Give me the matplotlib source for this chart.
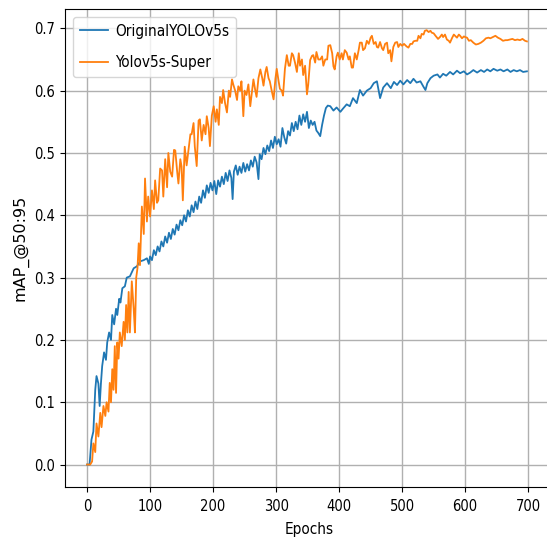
import matplotlib.pyplot as plt

# values (epoch, mAP@50:95)
# OriginalYOLOv5s, in three pieces
orig_epochs_a = [0, 4, 7, 10, 13, 15, 18, 20, 22, 24, 27, 30, 32, 35, 38, 40, 43, 46, 48, 51,
                 53, 56, 60, 63, 68, 74, 79, 84, 90, 95]
orig_map_a = [0.0, 0.0, 0.04, 0.053, 0.12, 0.142, 0.13, 0.094, 0.13, 0.158, 0.18, 0.168, 0.196,
              0.212, 0.2, 0.24, 0.225, 0.25, 0.24, 0.266, 0.26, 0.283, 0.286, 0.3, 0.302, 0.315,
              0.318, 0.326, 0.328, 0.331]

orig_epochs_b = [98, 100, 103, 106, 109, 112, 115, 118, 121, 124, 127, 130, 133, 136, 139, 142,
                 145, 148, 151, 154, 157, 160, 163, 166, 169, 172, 175, 178, 181, 184, 187, 190,
                 193, 196, 199, 202, 205, 208, 211, 214, 217, 220, 223, 226, 229, 231, 233, 236,
                 239, 242, 245, 248, 251, 254, 257, 260, 263, 266, 269, 272, 274, 277, 280, 283,
                 286, 289, 292, 295, 298, 301, 304, 307, 310, 313, 316, 319, 322, 325, 328, 331,
                 334, 337, 340, 343, 346, 349, 352, 355, 358, 361, 364, 367, 370, 373, 376, 379,
                 382]
orig_map_b = [0.322, 0.334, 0.328, 0.344, 0.336, 0.35, 0.342, 0.358, 0.35, 0.366, 0.356, 0.372,
              0.362, 0.378, 0.369, 0.385, 0.376, 0.392, 0.384, 0.4, 0.39, 0.408, 0.398, 0.416,
              0.405, 0.422, 0.41, 0.43, 0.42, 0.44, 0.428, 0.448, 0.436, 0.452, 0.44, 0.455,
              0.434, 0.456, 0.446, 0.462, 0.45, 0.468, 0.455, 0.472, 0.46, 0.426, 0.47, 0.48,
              0.465, 0.478, 0.468, 0.484, 0.47, 0.482, 0.472, 0.488, 0.478, 0.494, 0.485, 0.458,
              0.498, 0.49, 0.508, 0.498, 0.512, 0.503, 0.52, 0.508, 0.526, 0.514, 0.522, 0.51,
              0.54, 0.525, 0.515, 0.535, 0.528, 0.548, 0.535, 0.55, 0.538, 0.56, 0.545, 0.562,
              0.55, 0.566, 0.54, 0.552, 0.545, 0.55, 0.536, 0.532, 0.527, 0.545, 0.56, 0.572,
              0.576]

orig_epochs_c = [386, 391, 396, 402, 406, 412, 417, 422, 428, 433, 438, 444, 450, 455, 460, 465,
                 470, 476, 482, 487, 492, 497, 502, 508, 513, 518, 523, 529, 534, 537, 540, 545,
                 550, 556, 560, 565, 570, 576, 581, 587, 592, 598, 603, 608, 613, 619, 625, 630,
                 635, 640, 645, 651, 656, 661, 667, 672, 677, 682, 687, 692, 698]
orig_map_c = [0.575, 0.568, 0.573, 0.566, 0.571, 0.578, 0.575, 0.588, 0.58, 0.601, 0.592, 0.6,
              0.604, 0.612, 0.615, 0.588, 0.605, 0.612, 0.604, 0.614, 0.609, 0.616, 0.61, 0.617,
              0.612, 0.619, 0.613, 0.615, 0.606, 0.601, 0.612, 0.62, 0.624, 0.626, 0.621, 0.627,
              0.624, 0.63, 0.626, 0.632, 0.628, 0.631, 0.626, 0.629, 0.633, 0.629, 0.633, 0.63,
              0.634, 0.631, 0.635, 0.632, 0.634, 0.631, 0.634, 0.63, 0.633, 0.631, 0.633, 0.63,
              0.631]

# Yolov5s-Super
super_epochs = [0, 5, 8, 10, 13, 15, 18, 21, 23, 26, 29, 31, 34, 36, 38, 40, 42, 44, 46, 48,
                50, 52, 55, 58, 60, 62, 64, 66, 68, 71, 74, 76, 78, 80, 82, 84, 87, 90, 92, 95,
                97, 100, 103, 106, 108, 111, 113, 116, 119, 121, 124, 127, 129, 132, 135, 138,
                140, 143, 145, 148, 150, 152, 155, 158, 161, 164, 166, 169, 171, 174, 177, 179,
                182, 185, 188, 190, 193, 195, 198, 201, 204, 206, 209, 211, 214, 216, 219, 222,
                225, 227, 230, 232, 235, 238, 240, 243, 245, 248, 250, 253, 256, 259, 262, 264,
                267, 269, 272, 275, 278, 280, 283, 285, 288, 290, 293, 296, 299, 301, 304, 306,
                309, 311, 314, 317, 320, 322, 325, 327, 330, 333, 336, 338, 341, 343, 346, 349,
                351, 354, 357, 359, 362, 364, 367, 370, 373, 375, 378, 381, 383, 386, 389, 391,
                393, 396, 398, 401, 404, 406, 409, 412, 415, 417, 420, 422, 425, 428, 431, 433,
                436, 438, 441, 444, 447, 450, 452, 455, 458, 460, 462, 465, 468, 470, 473, 476,
                478, 481, 483, 486, 489, 492, 494, 497, 500, 503, 507, 510, 513, 516, 518, 521,
                524, 526, 529, 531, 534, 536, 539, 542, 545, 547, 550, 553, 557, 560, 563, 565,
                568, 571, 574, 576, 579, 582, 584, 587, 590, 592, 595, 598, 600, 603, 606, 609,
                613, 617, 621, 625, 629, 633, 637, 640, 644, 648, 652, 656, 660, 664, 667, 671,
                675, 679, 683, 687, 691, 695, 698]
super_map = [0.0, 0.0, 0.005, 0.034, 0.02, 0.066, 0.045, 0.083, 0.06, 0.094, 0.078, 0.1, 0.085,
             0.131, 0.1, 0.153, 0.12, 0.19, 0.115, 0.196, 0.17, 0.212, 0.19, 0.229, 0.2, 0.256,
             0.212, 0.277, 0.212, 0.294, 0.25, 0.212, 0.3, 0.315, 0.355, 0.32, 0.414, 0.37,
             0.459, 0.39, 0.43, 0.398, 0.44, 0.41, 0.456, 0.42, 0.424, 0.475, 0.472, 0.43, 0.49,
             0.445, 0.5, 0.47, 0.462, 0.505, 0.504, 0.47, 0.451, 0.49, 0.478, 0.424, 0.51, 0.48,
             0.505, 0.53, 0.53, 0.548, 0.51, 0.479, 0.552, 0.554, 0.52, 0.545, 0.53, 0.559,
             0.54, 0.511, 0.56, 0.575, 0.55, 0.57, 0.545, 0.59, 0.58, 0.601, 0.58, 0.565, 0.6,
             0.59, 0.618, 0.61, 0.6, 0.585, 0.607, 0.6, 0.615, 0.559, 0.6, 0.593, 0.61, 0.575,
             0.6, 0.618, 0.6, 0.59, 0.62, 0.634, 0.62, 0.608, 0.63, 0.638, 0.62, 0.615, 0.6,
             0.586, 0.62, 0.635, 0.615, 0.603, 0.6, 0.592, 0.635, 0.657, 0.64, 0.64, 0.66,
             0.657, 0.645, 0.63, 0.66, 0.64, 0.65, 0.625, 0.64, 0.594, 0.61, 0.649, 0.656,
             0.657, 0.645, 0.662, 0.65, 0.65, 0.655, 0.64, 0.65, 0.65, 0.672, 0.673, 0.66,
             0.639, 0.634, 0.655, 0.661, 0.65, 0.66, 0.65, 0.665, 0.661, 0.65, 0.655, 0.637,
             0.637, 0.66, 0.65, 0.665, 0.677, 0.677, 0.665, 0.668, 0.68, 0.675, 0.685, 0.688,
             0.675, 0.678, 0.67, 0.669, 0.678, 0.668, 0.665, 0.675, 0.677, 0.66, 0.665, 0.647,
             0.67, 0.677, 0.678, 0.67, 0.675, 0.672, 0.675, 0.671, 0.669, 0.675, 0.675, 0.679,
             0.68, 0.68, 0.688, 0.684, 0.691, 0.69, 0.696, 0.697, 0.694, 0.696, 0.693, 0.692,
             0.688, 0.683, 0.686, 0.69, 0.686, 0.69, 0.682, 0.68, 0.677, 0.684, 0.69, 0.688,
             0.685, 0.69, 0.688, 0.684, 0.687, 0.686, 0.685, 0.68, 0.681, 0.677, 0.674, 0.675,
             0.677, 0.68, 0.684, 0.685, 0.684, 0.686, 0.688, 0.685, 0.683, 0.68, 0.681, 0.681,
             0.682, 0.683, 0.681, 0.682, 0.681, 0.683, 0.68, 0.679]

series_names = ['OriginalYOLOv5s', 'Yolov5s-Super']

orig_epochs = orig_epochs_a + orig_epochs_b + orig_epochs_c
orig_map = orig_map_a + orig_map_b + orig_map_c

# the reference text looks tall and narrow, use the condensed face if there is one
plt.rcParams['font.family'] = ['DejaVu Sans']
plt.rcParams['font.stretch'] = 'condensed'
plt.rcParams['font.size'] = 11

fig = plt.figure(figsize=(5.47, 5.42), dpi=100)
# axes run past the right edge, the reference is cropped there
ax = fig.add_axes([65 / 547, 55 / 542, 489 / 547, 478 / 542])

ax.plot(orig_epochs, orig_map, color='tab:blue', linewidth=1.3, label=series_names[0])
ax.plot(super_epochs, super_map, color='tab:orange', linewidth=1.3, label=series_names[1])

ax.set_xlim(-35, 741)
ax.set_ylim(-0.036, 0.731)
ax.set_xticks(range(0, 701, 100))
ax.set_yticks([0.0, 0.1, 0.2, 0.3, 0.4, 0.5, 0.6, 0.7])
ax.tick_params(axis='both', labelsize=10.5)
ax.tick_params(axis='x', pad=5)
ax.grid(True, color='#b0b0b0', linewidth=1.0)
ax.set_xlabel('Epochs', fontsize=11, labelpad=6)
ax.set_ylabel('mAP_@50:95', fontsize=11.5, fontstretch='normal', labelpad=4)
ax.legend(loc='upper left', fontsize=11, labelspacing=1.1, borderpad=0.45,
          handlelength=1.85, handletextpad=0.5)

fig.savefig('out.png', dpi=100)
